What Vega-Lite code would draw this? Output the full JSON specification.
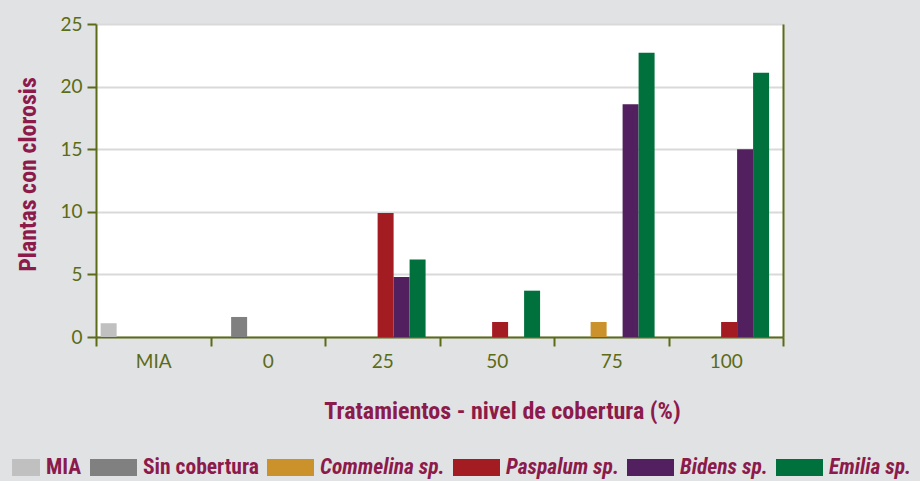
{
  "$schema": "https://vega.github.io/schema/vega-lite/v6.json",
  "width": 687,
  "height": 313,
  "autosize": {"type": "none"},
  "padding": {"left": 96, "top": 24, "right": 137, "bottom": 144},
  "background": "#e1e2e4",
  "view": {"fill": "white", "stroke": null},
  "data": {
    "values": [
      {"tratamiento": "MIA", "serie": "MIA", "plantas": 1.1},
      {"tratamiento": "0", "serie": "Sin cobertura", "plantas": 1.6},
      {"tratamiento": "25", "serie": "Paspalum sp.", "plantas": 9.9},
      {"tratamiento": "25", "serie": "Bidens sp.", "plantas": 4.8},
      {"tratamiento": "25", "serie": "Emilia sp.", "plantas": 6.2},
      {"tratamiento": "50", "serie": "Paspalum sp.", "plantas": 1.2},
      {"tratamiento": "50", "serie": "Emilia sp.", "plantas": 3.7},
      {"tratamiento": "75", "serie": "Commelina sp.", "plantas": 1.2},
      {"tratamiento": "75", "serie": "Bidens sp.", "plantas": 18.6},
      {"tratamiento": "75", "serie": "Emilia sp.", "plantas": 22.7},
      {"tratamiento": "100", "serie": "Paspalum sp.", "plantas": 1.2},
      {"tratamiento": "100", "serie": "Bidens sp.", "plantas": 15.0},
      {"tratamiento": "100", "serie": "Emilia sp.", "plantas": 21.1}
    ]
  },
  "layer": [
    {
      "mark": {"type": "bar"},
      "encoding": {
        "x": {
          "field": "tratamiento",
          "type": "nominal",
          "scale": {"domain": ["MIA", "0", "25", "50", "75", "100"], "paddingInner": 0, "paddingOuter": 0},
          "axis": {
            "labelAngle": 0,
            "labelColor": "#5b6b16",
            "labelFont": "Lato",
            "labelFontSize": 19,
            "labelPadding": 6,
            "tickBand": "extent",
            "tickColor": "#5b6b16",
            "tickSize": 9,
            "tickWidth": 2,
            "domainColor": "#5b6b16",
            "domainWidth": 2,
            "title": "Tratamientos - nivel de cobertura (%)",
            "titleFont": "Roboto Condensed, DejaVu Sans Condensed, sans-serif",
            "titleFontSize": 24,
            "titleFontWeight": "bold",
            "titleColor": "#8c1a4b",
            "titleX": 406,
            "titleY": 81,
            "titleAlign": "center",
            "titleAnchor": null,
            "titleBaseline": "alphabetic"
          }
        },
        "xOffset": {
          "field": "serie",
          "type": "nominal",
          "scale": {
            "domain": ["MIA", "Sin cobertura", "Commelina sp.", "Paspalum sp.", "Bidens sp.", "Emilia sp."],
            "paddingInner": 0,
            "paddingOuter": 0.58,
            "align": 0.25
          }
        },
        "y": {
          "field": "plantas",
          "type": "quantitative",
          "scale": {"domain": [0, 25], "nice": false},
          "axis": {
            "values": [0, 5, 10, 15, 20, 25],
            "labelColor": "#5b6b16",
            "labelFont": "Lato",
            "labelFontSize": 19,
            "labelPadding": 5,
            "tickColor": "#5b6b16",
            "tickSize": 9,
            "tickWidth": 2,
            "domainColor": "#5b6b16",
            "domainWidth": 2,
            "gridColor": "#d9d9d9",
            "gridWidth": 2,
            "title": "Plantas con clorosis",
            "titleFont": "Roboto Condensed, DejaVu Sans Condensed, sans-serif",
            "titleFontSize": 24,
            "titleFontWeight": "bold",
            "titleColor": "#8c1a4b",
            "titleAngle": -90,
            "titleX": -61,
            "titleY": 150,
            "titleAlign": "center",
            "titleAnchor": null,
            "titleBaseline": "alphabetic"
          }
        },
        "color": {
          "field": "serie",
          "type": "nominal",
          "scale": {
            "domain": ["MIA", "Sin cobertura", "Commelina sp.", "Paspalum sp.", "Bidens sp.", "Emilia sp."],
            "range": ["#c0c0c0", "#808080", "#cb922c", "#a31c22", "#52205e", "#00703c"]
          },
          "legend": {
            "title": null,
            "orient": "none",
            "legendX": -103,
            "legendY": 420,
            "direction": "horizontal",
            "columns": 6,
            "symbolSize": 2209,
            "symbolStrokeWidth": 0,
            "symbolOpacity": 1,
            "labelFont": "Roboto Condensed, DejaVu Sans Condensed, sans-serif",
            "labelFontSize": 21.5,
            "labelFontWeight": "bold",
            "labelColor": "#8c1a4b",
            "labelOffset": 6,
            "labelLimit": 400,
            "columnPadding": 8,
            "encode": {
              "labels": {
                "update": {
                  "fontStyle": {"signal": "datum.label == 'MIA' || datum.label == 'Sin cobertura' ? 'normal' : 'italic'"}
                }
              }
            }
          }
        }
      }
    },
    {
      "transform": [{"filter": "datum.plantas < 0"}],
      "mark": {"type": "point", "filled": true, "opacity": 1},
      "encoding": {
        "y": {
          "field": "plantas",
          "type": "quantitative",
          "axis": {
            "orient": "right",
            "labels": false,
            "ticks": false,
            "grid": false,
            "domainColor": "#5b6b16",
            "domainWidth": 2,
            "title": null
          }
        },
        "color": {
          "field": "serie",
          "type": "nominal"
        },
        "shape": {
          "field": "serie",
          "type": "nominal",
          "scale": {
            "domain": ["MIA", "Sin cobertura", "Commelina sp.", "Paspalum sp.", "Bidens sp.", "Emilia sp."],
            "range": [
              "M-0.19,-0.362H1V0.362H-0.19Z",
              "M-1,-0.362H1V0.362H-1Z",
              "M-1,-0.362H1V0.362H-1Z",
              "M-1,-0.362H1V0.362H-1Z",
              "M-1,-0.362H1V0.362H-1Z",
              "M-1,-0.362H1V0.362H-1Z"
            ]
          },
          "legend": {
            "title": null,
            "orient": "none",
            "legendX": -103,
            "legendY": 420,
            "direction": "horizontal",
            "columns": 6,
            "symbolSize": 2209,
            "symbolStrokeWidth": 0,
            "symbolOpacity": 1,
            "labelFont": "Roboto Condensed, DejaVu Sans Condensed, sans-serif",
            "labelFontSize": 21.5,
            "labelFontWeight": "bold",
            "labelColor": "#8c1a4b",
            "labelOffset": 6,
            "labelLimit": 400,
            "columnPadding": 8
          }
        }
      }
    }
  ],
  "resolve": {"axis": {"y": "independent"}}
}
